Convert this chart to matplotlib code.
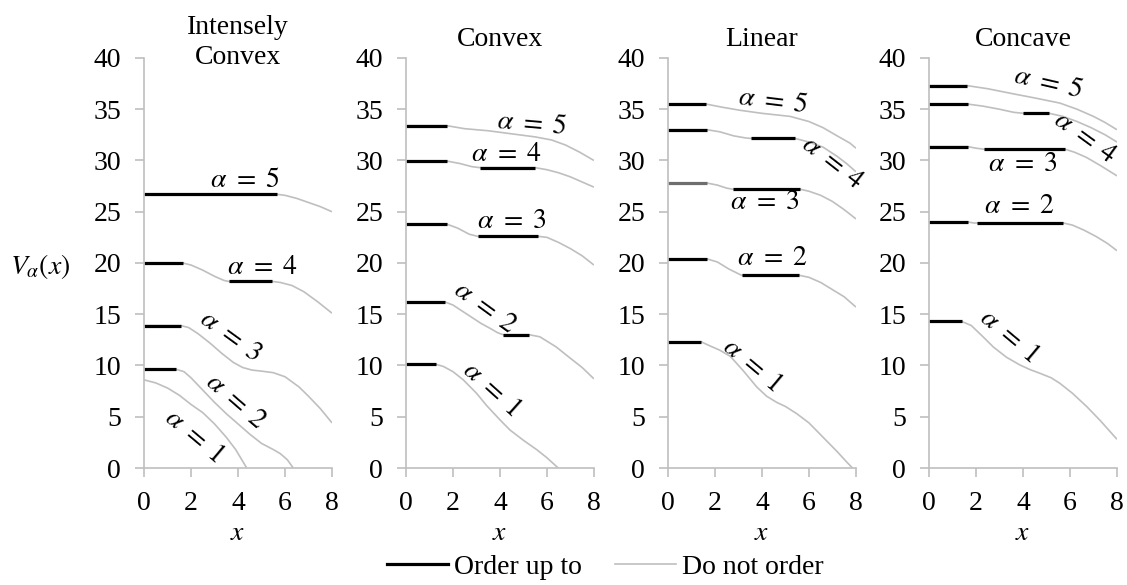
import matplotlib.pyplot as plt
from matplotlib.lines import Line2D

plt.rcParams['font.family'] = ['Liberation Serif', 'DejaVu Serif']
plt.rcParams['mathtext.fontset'] = 'stix'

titles = ["Intensely\nConvex", "Convex", "Linear", "Concave"]

# "Do not order" value curves V_alpha(x), one point list per alpha = 1..5
ic_curves = [
    [(0, 8.6), (0.5, 8.3), (1.0, 7.8), (1.5, 7.1), (2.0, 6.2), (2.5, 5.4), (3.0, 4.3),
     (3.5, 3.0), (3.9, 1.8), (4.37, 0)],
    [(0, 9.63), (1.36, 9.63), (1.7, 9.4), (2.0, 8.8), (2.5, 7.6), (3.0, 6.4), (3.5, 5.3),
     (4.0, 4.3), (4.5, 3.3), (5.0, 2.4), (5.5, 1.8), (5.8, 1.4), (6.1, 0.8), (6.35, 0)],
    [(0, 13.9), (1.56, 13.9), (1.9, 13.7), (2.3, 13.1), (2.8, 12.2), (3.3, 11.2), (3.8, 10.3),
     (4.2, 9.8), (4.6, 9.55), (5.0, 9.45), (5.5, 9.3), (6.0, 8.9), (6.6, 7.9), (7.0, 7.0),
     (7.5, 5.8), (8.0, 4.4)],
    [(0, 20.0), (1.65, 20.0), (2.0, 19.8), (2.5, 19.3), (3.0, 18.7), (3.4, 18.3), (3.6, 18.2),
     (5.45, 18.2), (5.8, 18.1), (6.3, 17.8), (6.8, 17.2), (7.4, 16.2), (8.0, 15.1)],
    [(0, 26.7), (5.66, 26.7), (6.0, 26.6), (6.5, 26.3), (7.0, 25.9), (7.5, 25.5), (8.0, 25.0)],
]
cv_curves = [
    [(0, 10.1), (1.3, 10.1), (1.6, 9.9), (2.0, 9.4), (2.44, 8.6), (3.0, 7.3), (3.43, 6.1),
     (4.0, 4.7), (4.43, 3.7), (5.0, 2.7), (5.56, 1.8), (6.0, 1.0), (6.48, 0)],
    [(0, 16.2), (1.66, 16.2), (2.0, 15.9), (2.4, 15.3), (2.8, 14.7), (3.2, 14.1), (3.6, 13.6),
     (3.9, 13.2), (4.14, 13.0), (5.25, 13.0), (5.7, 12.8), (6.4, 11.8), (7.0, 10.7),
     (7.5, 9.8), (8.0, 8.7)],
    [(0, 23.8), (1.73, 23.8), (2.2, 23.4), (2.7, 22.8), (3.05, 22.6), (5.63, 22.6),
     (6.0, 22.5), (6.5, 22.0), (7.0, 21.4), (7.5, 20.7), (8.0, 19.8)],
    [(0, 29.95), (1.73, 29.95), (2.3, 29.7), (2.8, 29.4), (3.15, 29.3), (5.5, 29.3),
     (6.0, 29.1), (6.5, 28.8), (7.0, 28.4), (7.5, 27.9), (8.0, 27.4)],
    [(0, 33.4), (1.73, 33.4), (2.5, 33.1), (3.5, 32.9), (4.5, 32.6), (5.5, 32.3), (6.2, 32.0),
     (6.8, 31.5), (7.4, 30.8), (8.0, 30.0)],
]
ln_curves = [
    [(0, 12.3), (1.42, 12.3), (1.8, 11.9), (2.2, 11.5), (2.65, 10.9), (3.2, 9.5), (3.78, 7.9),
     (4.2, 7.0), (4.63, 6.4), (5.0, 6.0), (5.48, 5.3), (6.0, 4.4), (6.6, 3.0), (7.2, 1.6),
     (7.6, 0.6), (7.85, 0)],
    [(0, 20.4), (1.66, 20.4), (2.1, 20.1), (2.6, 19.4), (3.13, 18.8), (5.59, 18.8),
     (6.0, 18.6), (6.5, 18.1), (7.0, 17.4), (7.5, 16.7), (8.0, 15.7)],
    [(0, 27.8), (1.66, 27.8), (2.1, 27.6), (2.5, 27.3), (2.75, 27.2), (5.62, 27.2),
     (6.0, 27.0), (6.5, 26.6), (7.0, 26.0), (7.5, 25.2), (8.0, 24.3)],
    [(0, 33.0), (1.66, 33.0), (2.2, 32.8), (2.8, 32.4), (3.3, 32.2), (3.53, 32.15),
     (5.41, 32.15), (6.0, 31.8), (6.6, 31.3), (7.2, 30.4), (7.6, 29.7), (8.0, 28.9)],
    [(0, 35.5), (1.63, 35.5), (2.3, 35.2), (3.06, 34.9), (4.0, 34.6), (5.2, 34.3),
     (6.0, 33.8), (6.6, 33.2), (7.2, 32.4), (7.74, 31.7), (8.0, 31.2)],
]
cc_curves = [
    [(0, 14.3), (1.39, 14.3), (1.8, 13.9), (2.3, 12.8), (2.74, 11.8), (3.3, 10.8),
     (3.87, 10.05), (4.3, 9.6), (4.72, 9.24), (5.2, 8.8), (5.57, 8.26), (6.1, 7.3),
     (6.71, 6.0), (7.3, 4.6), (8.0, 2.8)],
    [(0, 24.0), (1.66, 24.0), (1.9, 23.9), (2.06, 23.9), (5.72, 23.9), (6.1, 23.7),
     (6.6, 23.2), (7.1, 22.6), (7.6, 21.9), (8.0, 21.2)],
    [(0, 31.35), (1.66, 31.35), (2.0, 31.2), (2.34, 31.1), (5.79, 31.1), (6.2, 30.8),
     (6.7, 30.3), (7.3, 29.5), (8.0, 28.5)],
    [(0, 35.5), (1.66, 35.5), (2.3, 35.3), (3.0, 35.0), (3.6, 34.7), (4.02, 34.6),
     (5.12, 34.6), (5.7, 34.3), (6.3, 33.8), (6.9, 33.2), (7.5, 32.5), (8.0, 31.8)],
    [(0, 37.3), (1.63, 37.3), (2.5, 37.0), (3.59, 36.5), (4.5, 36.1), (5.57, 35.6),
     (6.3, 35.0), (7.0, 34.3), (7.5, 33.7), (8.0, 33.0)],
]

# "Order up to" flat segments: (alpha, x from, x to, V)
ic_order = [(2, 0, 1.36, 9.63), (3, 0, 1.56, 13.9), (4, 0, 1.65, 20.0), (4, 3.6, 5.45, 18.2),
            (5, 0, 5.66, 26.7)]
cv_order = [(1, 0, 1.3, 10.1), (2, 0, 1.66, 16.2), (2, 4.14, 5.25, 13.0), (3, 0, 1.73, 23.8),
            (3, 3.05, 5.63, 22.6), (4, 0, 1.73, 29.95), (4, 3.15, 5.5, 29.3), (5, 0, 1.73, 33.4)]
ln_order = [(1, 0, 1.42, 12.3), (2, 0, 1.66, 20.4), (2, 3.13, 5.59, 18.8), (3, 0, 1.66, 27.8),
            (3, 2.75, 5.62, 27.2), (4, 0, 1.66, 33.0), (4, 3.53, 5.41, 32.15), (5, 0, 1.63, 35.5)]
cc_order = [(1, 0, 1.39, 14.3), (2, 0, 1.66, 24.0), (2, 2.06, 5.72, 23.9), (3, 0, 1.66, 31.35),
            (3, 2.34, 5.79, 31.1), (4, 0, 1.66, 35.5), (4, 4.02, 5.12, 34.6), (5, 0, 1.63, 37.3)]

all_curves = [ic_curves, cv_curves, ln_curves, cc_curves]
all_order = [ic_order, cv_order, ln_order, cc_order]

# label placement (x, y, rotation) for alpha = 1..5 in each panel
label_pos = [
    [(2.1, 3.05, -40), (3.9, 6.5, -41), (3.66, 12.8, -36), (5.04, 19.6, 0), (4.3, 28.0, 0)],
    [(3.62, 7.6, -42), (3.36, 15.6, -36), (4.52, 24.0, 0), (4.28, 30.6, 0), (5.36, 33.5, -5)],
    [(3.57, 10.0, -40), (4.43, 20.4, 0), (4.13, 25.9, 0), (6.98, 29.75, -38), (4.47, 35.7, -7)],
    [(3.4, 12.8, -40), (3.87, 25.5, 0), (4.0, 29.65, 0), (6.64, 32.2, -36), (5.06, 37.5, -13)],
]

gray = '#bfbfbf'
fs = 20
fig = plt.figure(figsize=(11.27, 5.85), dpi=100)
lefts = [0.1278, 0.3602, 0.5927, 0.8243]
title_y = [0.97, 1.015, 1.015, 1.015]

for i in range(4):
    ax = fig.add_axes([lefts[i], 0.2, 0.1668, 0.7009])
    for curve in all_curves[i]:
        xs = [p[0] for p in curve]
        ys = [p[1] for p in curve]
        ax.plot(xs, ys, color=gray, lw=1.2, solid_capstyle='butt')
    for a, x0, x1, v in all_order[i]:
        col = 'black'
        if i == 2 and a == 3 and x0 == 0:
            col = '#6e6e6e'  # this one is drawn lighter in the original
        ax.plot([x0, x1], [v, v], color=col, lw=2.3, solid_capstyle='butt')
    for a, (tx, ty, rot) in enumerate(label_pos[i], start=1):
        ax.text(tx, ty, r'$\alpha\ =\ %d$' % a, fontsize=fs, ha='center', va='center',
                rotation=rot, rotation_mode='anchor')

    ax.set_xlim(0, 8)
    ax.set_ylim(0, 40)
    ax.set_xticks([0, 2, 4, 6, 8])
    ax.set_yticks(range(0, 41, 5))
    for s in ['top', 'right']:
        ax.spines[s].set_visible(False)
    for s in ['left', 'bottom']:
        ax.spines[s].set_color(gray)
        ax.spines[s].set_linewidth(1.2)
    ax.tick_params(colors=gray, labelcolor='black', labelsize=fs, length=6.5, width=1.2, pad=10)
    ax.set_xlabel(r'$x$', fontsize=fs, labelpad=4)
    ax.text(0.5, title_y[i], titles[i], transform=ax.transAxes, fontsize=fs,
            ha='center', va='bottom', linespacing=1.3)

fig.text(0.036, 0.545, r'$V_\alpha(x)$', fontsize=fs, ha='center', va='center')

handles = [Line2D([], [], color='black', lw=2.3), Line2D([], [], color=gray, lw=1.2)]
fig.legend(handles, ['Order up to', 'Do not order'], loc='center', ncol=2,
           bbox_to_anchor=(0.537, 0.03), frameon=False, fontsize=fs, handlelength=2.2,
           handletextpad=0.2, columnspacing=1.2)

fig.savefig('out.png', dpi=100)
